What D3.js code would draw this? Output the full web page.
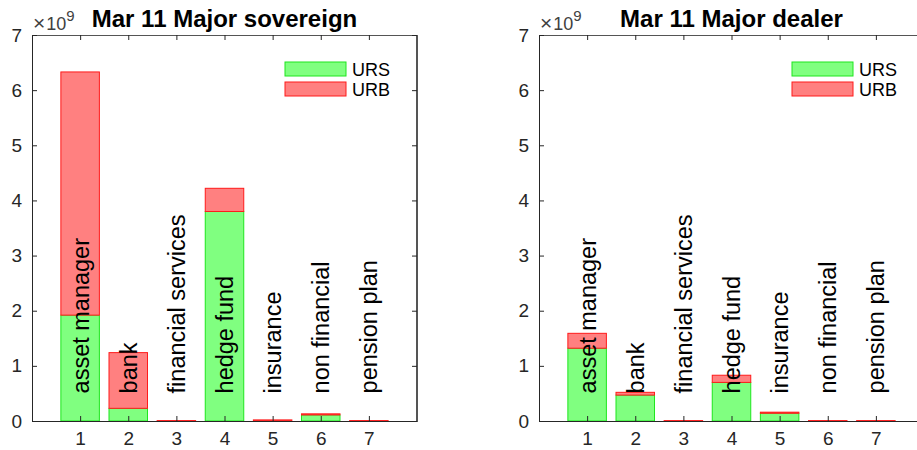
<!DOCTYPE html>
<html><head><meta charset="utf-8">
<script src="https://cdn.jsdelivr.net/npm/d3@7"></script>
<style>body{margin:0;background:#fff}svg{display:block}</style>
</head><body>
<script>
const categories = ["asset manager","bank","financial services","hedge fund","insurance","non financial","pension plan"];
const xTicks = [1,2,3,4,5,6,7];
const yTicks = [0,1,2,3,4,5,6,7];
const seriesNames = ["URS","URB"];
const titles = ["Mar 11 Major sovereign","Mar 11 Major dealer"];
// values in units of 1e9
const sovURS = [1.92,0.23,0.0,3.80,0.0,0.11,0.0];
const sovURB = [4.41,1.01,0.008,0.42,0.02,0.02,0.008];
const dlrURS = [1.32,0.47,0.0,0.70,0.14,0.0,0.0];
const dlrURB = [0.27,0.05,0.008,0.13,0.02,0.008,0.008];
const labelPos = 0.5;

const W=917,H=450;
const svg=d3.select("body").append("svg").attr("width",W).attr("height",H);
const font="Liberation Sans, Arial, Helvetica, sans-serif";
const fills={URS:"#80ff80",URB:"#ff8080"}, strokes={URS:"#1ee61e",URB:"#ff1a1a"};

function panel(left, title, urs, urb){
  const x=d3.scaleLinear().domain([0,8]).range([left,left+385]);
  const y=d3.scaleLinear().domain([0,7]).range([421,35]);
  const g=svg.append("g");
  const bw=x(0.8)-x(0);
  const data=categories.map((c,i)=>({i:i+1,c,s:urs[i],b:urb[i]}));
  g.selectAll(".urs").data(data).join("rect")
    .attr("x",d=>x(d.i)-bw/2).attr("width",bw)
    .attr("y",d=>y(d.s)).attr("height",d=>y(0)-y(d.s))
    .attr("fill",fills.URS).attr("stroke",strokes.URS).attr("stroke-width",1);
  g.selectAll(".urb").data(data).join("rect")
    .attr("x",d=>x(d.i)-bw/2).attr("width",bw)
    .attr("y",d=>y(d.s+d.b)).attr("height",d=>y(d.s)-y(d.s+d.b))
    .attr("fill",fills.URB).attr("stroke",strokes.URB).attr("stroke-width",1);
  g.selectAll(".lab").data(data).join("text")
    .attr("transform",d=>`translate(${x(d.i)+8.5},${y(labelPos)}) rotate(-90)`)
    .attr("font-family",font).attr("font-size",23.5).attr("fill","#000")
    .text(d=>d.c);
  g.append("line").attr("x1",x(0)).attr("x2",x(8)).attr("y1",y(7)+0.5).attr("y2",y(7)+0.5).attr("stroke","#555");
  g.append("line").attr("x1",x(8)-0.5).attr("x2",x(8)-0.5).attr("y1",y(0)).attr("y2",y(7)).attr("stroke","#555");
  const xa=g.append("g").attr("transform",`translate(0,${y(0)})`)
    .call(d3.axisBottom(x).tickValues(xTicks).tickSize(-5).tickPadding(11).tickFormat(d3.format("d")));
  const xt=g.append("g").attr("transform",`translate(0,${y(7)})`)
    .call(d3.axisTop(x).tickValues(xTicks).tickSize(-5).tickFormat(""));
  const ya=g.append("g").attr("transform",`translate(${x(0)},0)`)
    .call(d3.axisLeft(y).tickValues(yTicks).tickSize(-5).tickPadding(10).tickFormat(d3.format("d")));
  const yr=g.append("g").attr("transform",`translate(${x(8)},0)`)
    .call(d3.axisRight(y).tickValues(yTicks).tickSize(-5).tickFormat(""));
  [xa,xt,ya,yr].forEach(a=>{
    a.select(".domain").attr("stroke","#262626");
    a.selectAll(".tick line").attr("stroke","#262626");
    a.selectAll("text").attr("font-family",font).attr("font-size",19).attr("fill","#262626");
  });
  xt.select(".domain").attr("stroke","#555");
  yr.select(".domain").attr("stroke","#555");
  const m=g.append("text").attr("x",x(0)+1).attr("y",30).attr("font-family",font).attr("font-size",18).attr("fill","#404040");
  m.append("tspan").attr("font-size",21).text("×");
  m.append("tspan").attr("dx",1).text("10");
  m.append("tspan").attr("dy",-9).attr("font-size",15).text("9");
  g.append("text").attr("x",x(4)).attr("y",27).attr("text-anchor","middle")
    .attr("font-family",font).attr("font-weight","bold").attr("font-size",24).attr("fill","#000").text(title);
  const lx=x(0)+253, ly=62;
  seriesNames.forEach((s,k)=>{
    g.append("rect").attr("x",lx).attr("y",ly+k*20).attr("width",61).attr("height",14)
      .attr("fill",fills[s]).attr("stroke",strokes[s]);
    g.append("text").attr("x",lx+67).attr("y",ly+k*20+13.5).attr("font-family",font).attr("font-size",18).attr("fill","#000").text(s);
  });
}
panel(32,titles[0],sovURS,sovURB);
panel(539,titles[1],dlrURS,dlrURB);
</script>
</body></html>
